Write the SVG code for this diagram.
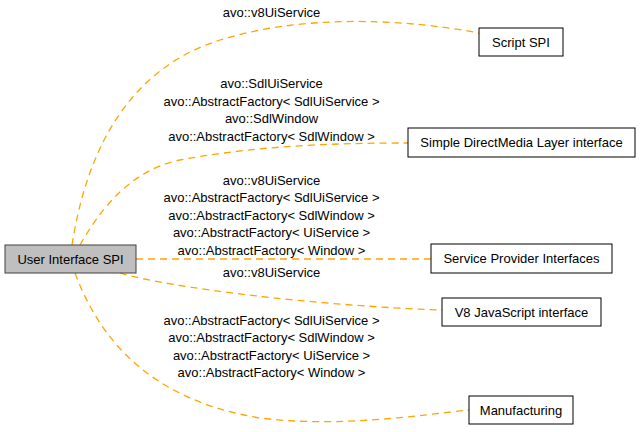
<svg xmlns="http://www.w3.org/2000/svg" width="640" height="432" viewBox="0 0 640 432">
<style>
text { font-family: "Liberation Sans", Arial, sans-serif; font-size: 13px; fill: #000; text-anchor: middle; }
.node rect { fill: #fff; stroke: #000; stroke-width: 1; }
.node.cur rect { fill: #bfbfbf; stroke: #404040; }
.edge { fill: none; stroke: #ffa500; stroke-width: 1.3; stroke-dasharray: 7,5; }
</style>
<rect width="640" height="432" fill="#fff"/>
<g id="connectors">
<path class="edge" d="M72,245 C86,155 125,70 220,40 C300,15 400,18 479,33"/>
<path class="edge" d="M80,245 C100,210 130,170 180,160 C260,145 340,143 408,143"/>
<path class="edge" d="M136,259 L431,259"/>
<path class="edge" d="M120,273 C170,288 320,306 442,310"/>
<path class="edge" d="M75,273 C100,340 150,400 260,418 C340,428 420,415 469,410"/>
<g id="edge-labels">
<text x="271.5" y="16.5">avo::v8UiService</text>
<text x="271.5" y="88">avo::SdlUiService</text>
<text x="271.5" y="105.5">avo::AbstractFactory&lt; SdlUiService &gt;</text>
<text x="271.5" y="123">avo::SdlWindow</text>
<text x="271.5" y="140.5">avo::AbstractFactory&lt; SdlWindow &gt;</text>
<text x="271.5" y="184.5">avo::v8UiService</text>
<text x="271.5" y="202">avo::AbstractFactory&lt; SdlUiService &gt;</text>
<text x="271.5" y="219.5">avo::AbstractFactory&lt; SdlWindow &gt;</text>
<text x="271.5" y="237">avo::AbstractFactory&lt; UiService &gt;</text>
<text x="271.5" y="254.5">avo::AbstractFactory&lt; Window &gt;</text>
<text x="271.5" y="276.5">avo::v8UiService</text>
<text x="271.5" y="324.5">avo::AbstractFactory&lt; SdlUiService &gt;</text>
<text x="271.5" y="342">avo::AbstractFactory&lt; SdlWindow &gt;</text>
<text x="271.5" y="359.5">avo::AbstractFactory&lt; UiService &gt;</text>
<text x="271.5" y="377">avo::AbstractFactory&lt; Window &gt;</text>
</g>
</g>
<g id="node-ui" class="node cur">
<rect x="5" y="245" width="131" height="28"/>
<text x="70.5" y="263.5">User Interface SPI</text>
</g>
<g id="node-script" class="node">
<rect x="479" y="28" width="84" height="28"/>
<text x="521" y="46.5">Script SPI</text>
</g>
<g id="node-sdl" class="node">
<rect x="408" y="128" width="227" height="29"/>
<text x="521.5" y="147">Simple DirectMedia Layer interface</text>
</g>
<g id="node-spi" class="node">
<rect x="431" y="244" width="181" height="29"/>
<text x="521.5" y="263">Service Provider Interfaces</text>
</g>
<g id="node-v8" class="node">
<rect x="442" y="298" width="159" height="28"/>
<text x="521.5" y="316.5">V8 JavaScript interface</text>
</g>
<g id="node-manufacturing" class="node">
<rect x="469" y="396" width="104" height="28"/>
<text x="521" y="414.5">Manufacturing</text>
</g>
</svg>
